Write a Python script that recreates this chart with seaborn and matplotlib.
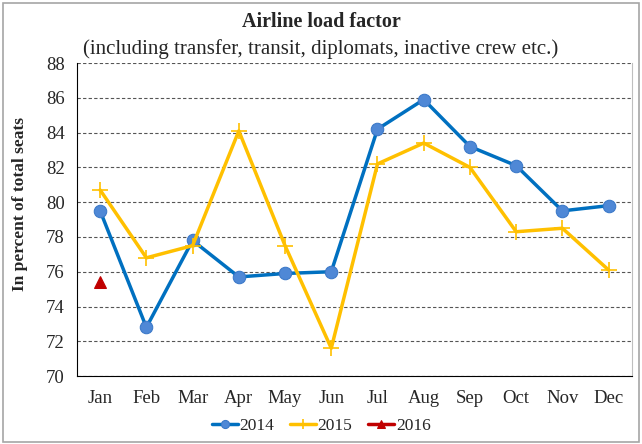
import matplotlib
matplotlib.use('Agg')
import matplotlib.pyplot as plt
import seaborn as sns
import pandas as pd
from matplotlib.patches import Rectangle

months = ['Jan', 'Feb', 'Mar', 'Apr', 'May', 'Jun', 'Jul', 'Aug', 'Sep', 'Oct', 'Nov', 'Dec']
load_2014 = [79.5, 72.8, 77.8, 75.7, 75.9, 76.0, 84.2, 85.9, 83.2, 82.1, 79.5, 79.8]
load_2015 = [80.7, 76.8, 77.5, 84.1, 77.5, 71.6, 82.2, 83.4, 82.0, 78.3, 78.5, 76.1]
load_2016 = [75.4]

sns.set_style('white')
plt.rcParams['font.family'] = ['Liberation Serif', 'DejaVu Serif']

fig = plt.figure(figsize=(6.42, 4.44), dpi=100)
ax = fig.add_axes([0.12, 0.153, 0.864, 0.705])

# frame round the whole chart
fig.patches.append(Rectangle((0.004, 0.004), 0.992, 0.99, transform=fig.transFigure,
                             fill=False, edgecolor='#a6a6a6', lw=1.2))

df14 = pd.DataFrame({'x': range(len(load_2014)), 'y': load_2014})
df15 = pd.DataFrame({'x': range(len(load_2015)), 'y': load_2015})
df16 = pd.DataFrame({'x': range(len(load_2016)), 'y': load_2016})

sns.lineplot(data=df14, x='x', y='y', ax=ax, color='#0070c0', lw=2.5, marker='o',
             markersize=9, markerfacecolor='#4f88d6', markeredgecolor='#3a78c8', label='2014')
sns.lineplot(data=df15, x='x', y='y', ax=ax, color='#ffc000', lw=2.5, marker='+',
             markersize=11, markeredgewidth=1.2, markeredgecolor='#ffc000', label='2015')
sns.lineplot(data=df16, x='x', y='y', ax=ax, color='#c00000', lw=2.5, marker='^',
             markersize=9, markeredgecolor='#c00000', label='2016')

ax.set_xlim(-0.5, 11.5)
ax.set_ylim(70, 88)
ax.set_yticks(range(70, 89, 2))
ax.set_xticks(range(12))
ax.set_xticklabels(months)
ax.set_xticks([i - 0.5 for i in range(13)], minor=True)
ax.tick_params(axis='x', which='major', length=0, labelsize=13.5, pad=10)
ax.tick_params(axis='x', which='minor', length=5, direction='out', color='#808080')
ax.tick_params(axis='y', length=4, direction='out', labelsize=13.5, color='#808080', pad=5)
ax.grid(axis='y', linestyle=(0, (3, 2)), color='#555555', lw=0.8)
ax.set_axisbelow(True)

ax.spines['left'].set_color('black')
ax.spines['bottom'].set_color('black')
ax.spines['top'].set_visible(False)
ax.spines['right'].set_color('#bfbfbf')

ax.set_xlabel('')
ax.set_ylabel('In percent of total seats', fontsize=12.5, fontweight='bold')
ax.yaxis.set_label_coords(-0.088, 0.55)

fig.text(0.5, 0.94, 'Airline load factor', ha='center', fontsize=14.5, fontweight='bold')
fig.text(0.5, 0.878, '(including transfer, transit, diplomats, inactive crew etc.)',
         ha='center', fontsize=15)

ax.legend(loc='upper center', bbox_to_anchor=(0.44, -0.085), ncol=3, frameon=False,
          fontsize=12.5, handlelength=1.5, handletextpad=0.1, columnspacing=0.9,
          markerscale=0.65)

fig.savefig('out.png', dpi=100)
